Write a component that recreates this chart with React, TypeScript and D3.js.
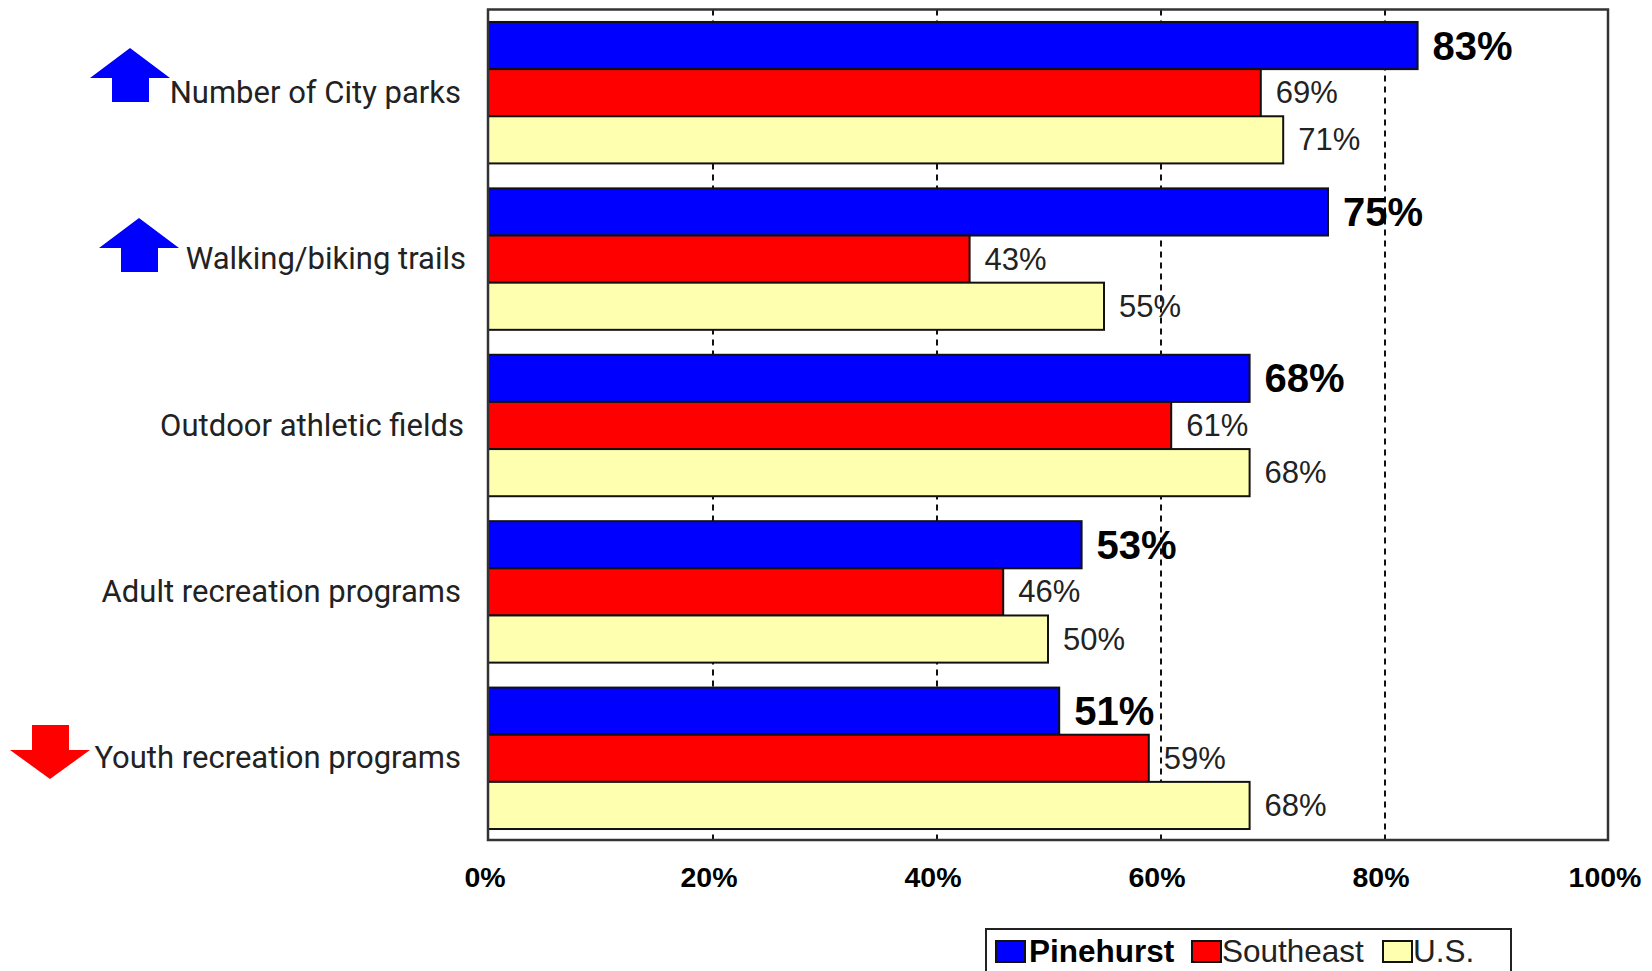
import React, { useRef, useEffect } from 'react';
import * as d3 from 'd3';

const categories = [
  'Number of City parks',
  'Walking/biking trails',
  'Outdoor athletic fields',
  'Adult recreation programs',
  'Youth recreation programs'
];
const seriesNames = ['Pinehurst', 'Southeast', 'U.S.'];
const pinehurst = [83, 75, 68, 53, 51];
const southeast = [69, 43, 61, 46, 59];
const us = [71, 55, 68, 50, 68];
const xTicks = [0, 20, 40, 60, 80, 100];
const seriesColors = ['#0000ff', '#ff0000', '#ffffb0'];
// change markers next to the labels
const trendArrows = ['up', 'up', null, null, 'down'];

const WIDTH = 1652;
const HEIGHT = 971;
const labelFont = 'Roboto, sans-serif';
const numberFont = '"Liberation Sans", Arial, sans-serif';

const App: React.FC = () => {
  const svgRef = useRef<SVGSVGElement>(null);

  useEffect(() => {
    if (!svgRef.current) return;

    const svg = d3.select(svgRef.current);
    svg.selectAll('*').remove(); // Clear previous content

    const x = d3.scaleLinear().domain([0, 100]).range([488, 1608]);
    const y = d3.scaleBand<string>()
      .domain(categories)
      .range([10.5, 840.5])
      .paddingInner(0.15)
      .paddingOuter(0.069);
    const y1 = d3.scaleBand<string>()
      .domain(seriesNames)
      .range([0, y.bandwidth()]);
    const values = [pinehurst, southeast, us];

    // Dashed gridlines sit behind the bars
    svg.append('g')
      .selectAll('line')
      .data(xTicks.slice(1, -1))
      .join('line')
      .attr('x1', d => x(d) + 1)
      .attr('x2', d => x(d) + 1)
      .attr('y1', 9.5)
      .attr('y2', 840)
      .attr('stroke', '#111')
      .attr('stroke-width', 2)
      .attr('stroke-dasharray', '6,5');

    // Bars and value labels
    seriesNames.forEach((name, s) => {
      const g = svg.append('g');
      categories.forEach((cat, i) => {
        const v = values[s][i];
        const top = (y(cat) as number) + (y1(name) as number);
        g.append('rect')
          .attr('x', x(0))
          .attr('y', top)
          .attr('width', x(v) - x(0))
          .attr('height', y1.bandwidth())
          .attr('fill', seriesColors[s])
          .attr('stroke', '#111')
          .attr('stroke-width', 2);
        g.append('text')
          .attr('x', x(v) + 15)
          .attr('y', top + y1.bandwidth() / 2 + (s === 0 ? 14 : 10.5))
          .attr('font-family', numberFont)
          .attr('font-size', s === 0 ? 40 : 31)
          .attr('font-weight', s === 0 ? 'bold' : 'normal')
          .attr('fill', s === 0 ? '#000' : '#222')
          .text(`${v}%`);
      });
    });

    // Plot frame
    svg.append('rect')
      .attr('x', x(0))
      .attr('y', 9.5)
      .attr('width', x(100) - x(0))
      .attr('height', 830.5)
      .attr('fill', 'none')
      .attr('stroke', '#333')
      .attr('stroke-width', 2.5);

    // X axis labels
    const axis = d3.axisBottom(x)
      .tickValues(xTicks)
      .tickFormat(d => `${d}%`)
      .tickSize(0)
      .tickPadding(27);
    const axisG = svg.append('g')
      .attr('transform', 'translate(-3.5,839.5)')
      .call(axis);
    axisG.select('.domain').remove();
    axisG.selectAll('text')
      .attr('font-family', numberFont)
      .attr('font-size', 28.5)
      .attr('font-weight', 'bold')
      .attr('fill', '#000');

    // Category labels
    svg.append('g')
      .selectAll('text')
      .data(categories)
      .join('text')
      .attr('x', (d, i) => [461, 466, 464, 461, 461][i])
      .attr('y', d => (y(d) as number) + y.bandwidth() / 2 + 10)
      .attr('text-anchor', 'end')
      .attr('font-family', labelFont)
      .attr('font-size', 31)
      .attr('fill', '#222')
      .text(d => d);

    // Arrows, drawn from a tip-at-origin shape
    const arrowUp = 'M0,0 L40,30 L19,30 L19,54 L-18,54 L-18,30 L-40,30 Z';
    const arrowDown = 'M0,0 L40,-29 L19,-29 L19,-54 L-18,-54 L-18,-29 L-40,-29 Z';
    const arrowPos = [[130, 48], [139, 218], null, null, [50, 779]];
    trendArrows.forEach((dir, i) => {
      const p = arrowPos[i];
      if (!dir || !p) return;
      svg.append('path')
        .attr('transform', `translate(${p[0]},${p[1]})`)
        .attr('d', dir === 'up' ? arrowUp : arrowDown)
        .attr('fill', dir === 'up' ? '#0000ff' : '#ff0000');
    });

    // Legend, cut off by the bottom edge
    svg.append('rect')
      .attr('x', 986)
      .attr('y', 929)
      .attr('width', 525)
      .attr('height', 60)
      .attr('fill', '#fff')
      .attr('stroke', '#222')
      .attr('stroke-width', 2);
    const legendX = [996, 1192, 1383];
    seriesNames.forEach((name, s) => {
      svg.append('rect')
        .attr('x', legendX[s])
        .attr('y', 941)
        .attr('width', 29)
        .attr('height', 21)
        .attr('fill', seriesColors[s])
        .attr('stroke', '#111')
        .attr('stroke-width', 2);
      svg.append('text')
        .attr('x', legendX[s] + (s === 0 ? 33 : 30))
        .attr('y', 962)
        .attr('font-family', numberFont)
        .attr('font-size', 31.5)
        .attr('font-weight', s === 0 ? 'bold' : 'normal')
        .attr('fill', s === 0 ? '#000' : '#222')
        .text(name);
    });
  }, []);

  return (
    <svg
      ref={svgRef}
      width={WIDTH}
      height={HEIGHT}
      style={{ position: 'absolute', left: 0, top: 0, background: '#fff' }}
    />
  );
};

export default App;
